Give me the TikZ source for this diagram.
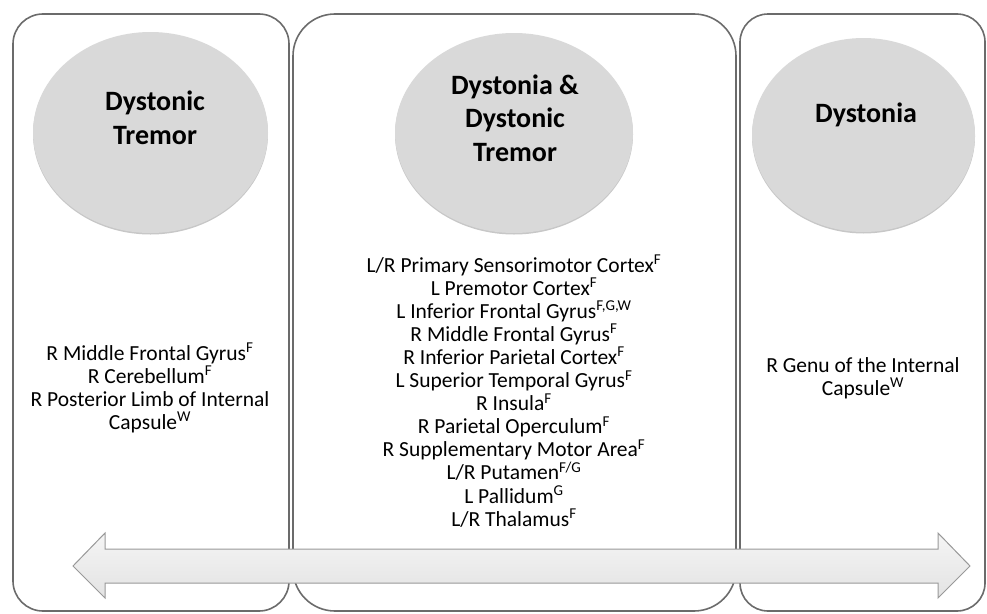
\documentclass[tikz,border=0pt]{standalone}
\usepackage{fontspec}
\setmainfont{Carlito}
\begin{document}
\begin{tikzpicture}[x=1pt,y=-1pt,
  panel/.style={draw=black!58,line width=1.6pt,rounded corners=#1},
  bubble/.style={fill=black!15},
  title/.style={font=\fontsize{28}{33.5}\selectfont\bfseries,align=center,inner sep=0pt},
  list/.style={font=\fontsize{21.5}{23.1}\selectfont,align=center,inner sep=0pt}]
  \useasboundingbox (0,0) rectangle (987,613);
  % the three panels
  \draw[panel=30] (13,14) rectangle (289,611);
  \draw[panel=42] (293,14) rectangle (736,611);
  \draw[panel=28] (740,14) rectangle (985,611);
  % grey bubbles, with a faint shadow below
  \fill[black!22] (150.5,134) ellipse [x radius=117.5,y radius=100.5];
  \fill[bubble] (150.5,132.5) ellipse [x radius=117.5,y radius=100.5];
  \fill[black!22] (514,134.5) ellipse [x radius=119,y radius=100];
  \fill[bubble] (514,133) ellipse [x radius=119,y radius=100];
  \fill[black!22] (863.5,136.5) ellipse [x radius=111.5,y radius=97];
  \fill[bubble] (863.5,135) ellipse [x radius=111.5,y radius=97];
  \node[title] (tremor) at (155,118) {Dystonic\\Tremor};
  \node[title] (both) at (515,118) {Dystonia \&\\Dystonic\\Tremor};
  \node[title] (dystonia) at (866,115) {Dystonia};
  % region lists
  \node[list] (tremorlist) at (150,388) {R Middle Frontal Gyrus\textsuperscript{F}\\
    R Cerebellum\textsuperscript{F}\\
    R Posterior Limb of Internal\\
    Capsule\textsuperscript{W}};
  \node[list] (bothlist) at (514,391) {L/R Primary Sensorimotor Cortex\textsuperscript{F}\\
    L Premotor Cortex\textsuperscript{F}\\
    L Inferior Frontal Gyrus\textsuperscript{F,G,W}\\
    R Middle Frontal Gyrus\textsuperscript{F}\\
    R Inferior Parietal Cortex\textsuperscript{F}\\
    L Superior Temporal Gyrus\textsuperscript{F}\\
    R Insula\textsuperscript{F}\\
    R Parietal Operculum\textsuperscript{F}\\
    R Supplementary Motor Area\textsuperscript{F}\\
    L/R Putamen\textsuperscript{F/G}\\
    L Pallidum\textsuperscript{G}\\
    L/R Thalamus\textsuperscript{F}};
  \node[list] (dystonialist) at (863,378) {R Genu of the Internal\\
    Capsule\textsuperscript{W}};
  % double arrow along the bottom
  \draw[draw=black!40,line width=1pt,top color=black!4,bottom color=black!11]
    (73,566) -- (105,533) -- (105,549) -- (938,549) -- (938,533) -- (970,566)
    -- (938,598) -- (938,583) -- (105,583) -- (105,598) -- cycle;
\end{tikzpicture}
\end{document}
